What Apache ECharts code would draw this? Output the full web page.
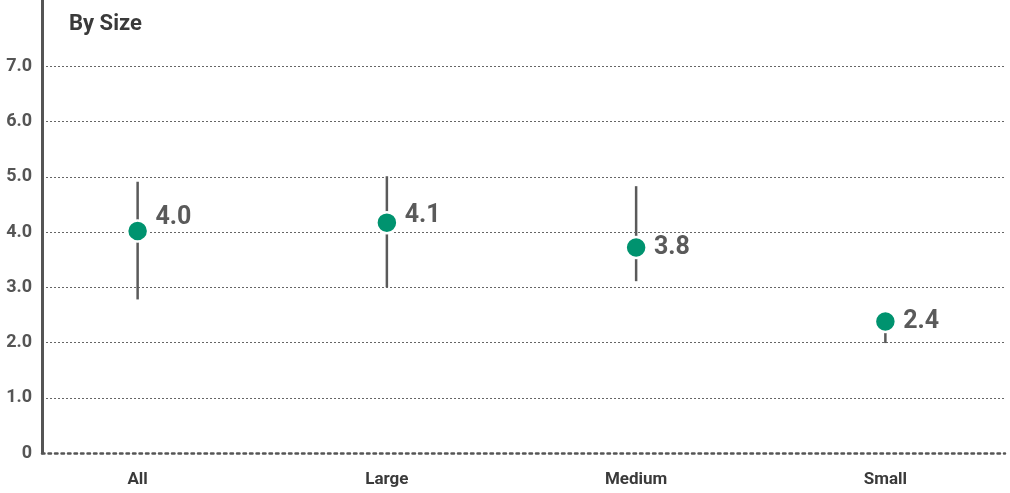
<!DOCTYPE html>
<html><head><meta charset="utf-8">
<script src="https://cdn.jsdelivr.net/npm/echarts@6/dist/echarts.min.js"></script>
<style>html,body{margin:0;padding:0;background:#fff}#c{width:1010px;height:493px}</style>
</head><body><div id="c"></div>
<script>
const categories = ['All', 'Large', 'Medium', 'Small'];
const means = [4.02, 4.17, 3.72, 2.38];
const meanLabels = ['4.0', '4.1', '3.8', '2.4'];
const lows = [2.78, 3.0, 3.11, 1.99];
const highs = [4.91, 5.01, 4.83, 2.38];
const yTicks = [0, 1, 2, 3, 4, 5, 6, 7];
const title = 'By Size';

const FONT = 'Roboto, "Noto Sans", sans-serif';
const labelOffsets = [[0, -13], [0, -7], [0, 0], [0, 0]];
const yMax = 8.2;
// split lines drawn for 1..7 (min line skipped); anything above is hidden
const splitColors = yTicks.slice(1).map(() => '#666').concat(['rgba(0,0,0,0)', 'rgba(0,0,0,0)', 'rgba(0,0,0,0)']);

const chart = echarts.init(document.getElementById('c'));
chart.setOption({
  animation: false,
  backgroundColor: '#fff',
  title: { text: title, left: 64, top: 8, textStyle: { fontFamily: FONT, fontSize: 22, fontWeight: 'bold', color: '#3a3a3a' } },
  grid: [
    { left: 42, right: 5, top: 0, bottom: 40 },
    { left: 13, right: 0, top: 0, bottom: 40 }
  ],
  xAxis: [
    { gridIndex: 0, type: 'value', min: 0, max: 1, axisLabel: { show: false }, axisTick: { show: false }, splitLine: { show: false },
      axisLine: { show: true, lineStyle: { color: '#555', width: 2.5, type: [2.5, 4] } } },
    { gridIndex: 1, type: 'category', data: categories, axisLine: { show: false }, axisTick: { show: false },
      axisLabel: { fontFamily: FONT, fontSize: 17, fontWeight: 'bold', color: '#3a3a3a', margin: 18 } }
  ],
  yAxis: [
    { gridIndex: 0, type: 'value', min: 0, max: yMax, interval: 1,
      axisLine: { show: true, lineStyle: { color: '#555', width: 3 } },
      axisTick: { show: false },
      axisLabel: { fontFamily: FONT, fontSize: 18, fontWeight: 'bold', color: '#555', margin: 10,
        formatter: v => (v > 7.001 ? '' : (v === 0 ? '0' : v.toFixed(1))) },
      splitLine: { show: true, showMinLine: false, showMaxLine: false, lineStyle: { color: splitColors, width: 1, type: [2, 2] } } },
    { gridIndex: 1, type: 'value', min: 0, max: yMax, show: false, splitLine: { show: false } }
  ],
  series: [
    {
      type: 'custom', xAxisIndex: 1, yAxisIndex: 1, z: 2,
      data: categories.map((c, i) => [i, lows[i], highs[i]]),
      renderItem: (params, api) => {
        const p1 = api.coord([api.value(0), api.value(1)]);
        const p2 = api.coord([api.value(0), api.value(2)]);
        return { type: 'line', shape: { x1: p1[0], y1: p1[1], x2: p2[0], y2: p2[1] }, style: { stroke: '#5a5a5a', lineWidth: 2.5 } };
      }
    },
    {
      type: 'scatter', xAxisIndex: 1, yAxisIndex: 1, z: 3,
      symbolSize: 21,
      itemStyle: { color: '#00936f', borderColor: '#fff', borderWidth: 2.5, opacity: 1 },
      data: means.map((v, i) => ({ value: [i, v], label: { offset: labelOffsets[i] } })),
      label: { show: true, position: 'right', distance: 6, fontFamily: FONT, fontSize: 25, fontWeight: 'bold', color: '#5a5a5a',
        formatter: p => meanLabels[p.dataIndex] }
    }
  ]
});
</script></body></html>
